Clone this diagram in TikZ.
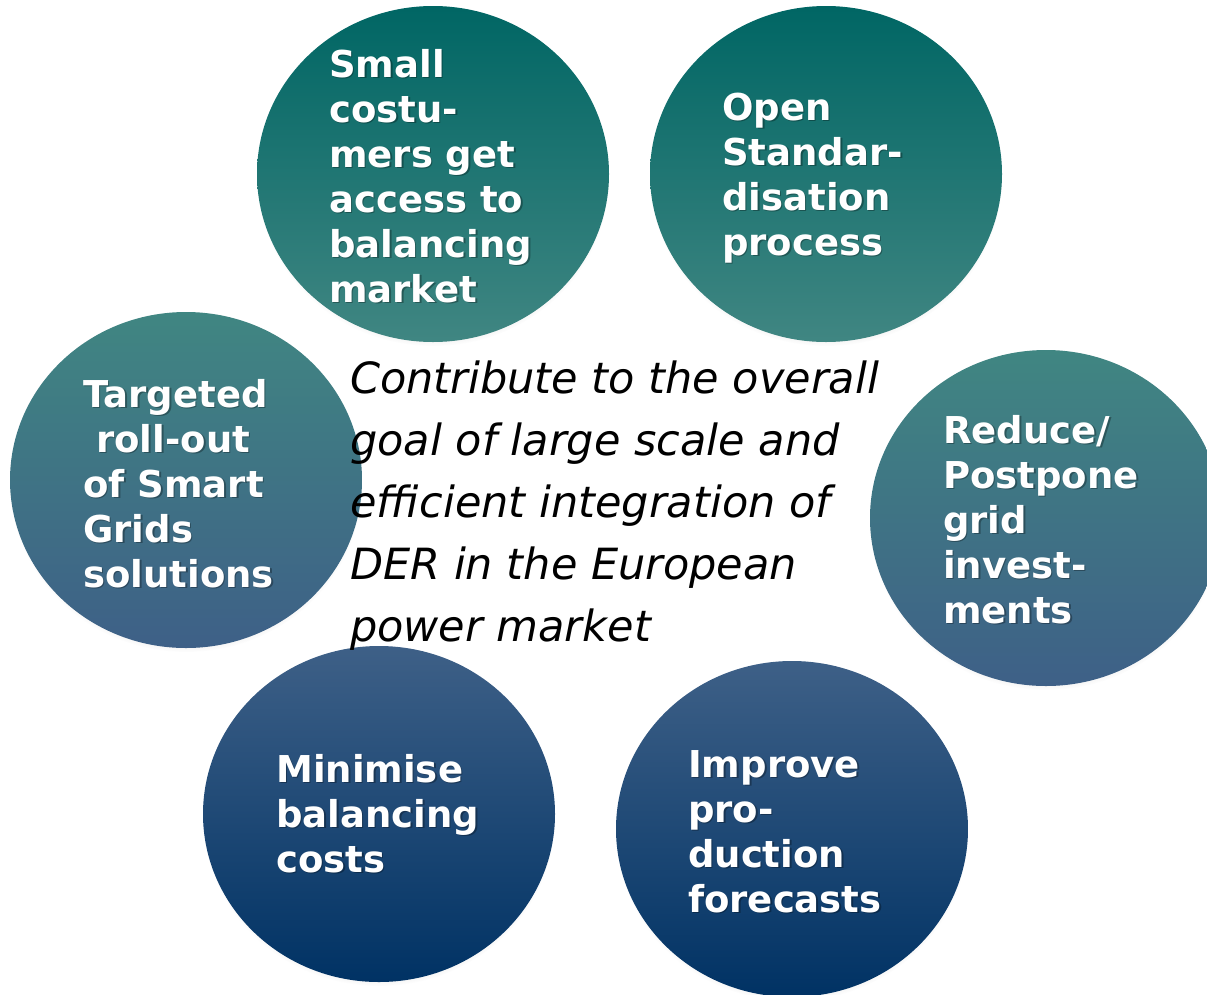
\documentclass[tikz,border=0pt]{standalone}
\usepackage{fontspec}
\setsansfont{DejaVu Sans}
\usetikzlibrary{shapes.geometric,shadows}
\definecolor{tealtop}{RGB}{0,102,100}
\definecolor{tealmid}{RGB}{64,134,130}
\definecolor{bluemid}{RGB}{62,96,135}
\definecolor{navybot}{RGB}{0,50,100}

% white label with a soft shadow behind it (anchored at its last line)
\newcommand{\goallabel}[3]{%
  \node[goaltext, text=black, text opacity=.3, xshift=1.5pt, yshift=-1.5pt] (#1-sh) at #2 {#3};
  \node[goaltext] (#1) at #2 {#3};}

\begin{document}
\begin{tikzpicture}[x=1pt, y=-1pt,
    bubble/.style = {
      ellipse,
      minimum width = 352pt,
      minimum height = 336pt,
      inner sep = 0pt,
      circular drop shadow = {shadow xshift=0pt, shadow yshift=-4pt,
                              shadow scale=1.0, opacity=.35}
    },
    goaltext/.style = {
      anchor = base west,
      align = left,
      inner sep = 0pt,
      text = white,
      font = \sffamily\bfseries\fontsize{37}{45}\selectfont
    }
  ]

  \useasboundingbox (0,0) rectangle (1207,994);

  % circles
  \node[bubble, top color=tealtop, bottom color=tealmid] (small) at (433,174) {};
  \node[bubble, top color=tealtop, bottom color=tealmid] (open) at (826,174) {};
  \node[bubble, top color=tealmid, bottom color=bluemid] (rollout) at (186,480) {};
  \node[bubble, top color=tealmid, bottom color=bluemid] (reduce) at (1046,518) {};
  \node[bubble, top color=bluemid, bottom color=navybot] (minimise) at (379,814) {};
  \node[bubble, top color=bluemid, bottom color=navybot] (improve) at (792,829) {};

  % texts
  \goallabel{small-t}{(329,302)}{Small\\costu-\\mers get\\access to\\balancing\\market}
  \goallabel{open-t}{(722,255)}{Open\\Standar-\\disation\\process}
  \goallabel{rollout-t}{(83,587)}{Targeted\\\hspace*{13pt}roll-out\\of Smart\\Grids\\solutions}
  \goallabel{reduce-t}{(943,623)}{Reduce/\\Postpone\\grid\\invest-\\ments}
  \goallabel{minimise-t}{(276,872)}{Minimise\\balancing\\costs}
  \goallabel{improve-t}{(688,912)}{Improve\\pro-\\duction\\forecasts}

  \node[anchor=base west, align=left, inner sep=0pt,
        font=\sffamily\itshape\fontsize{43}{62}\selectfont] (goal) at (350,641)
    {Contribute to the overall\\goal of large scale and\\efficient integration of\\DER in the European\\power market};

\end{tikzpicture}
\end{document}
